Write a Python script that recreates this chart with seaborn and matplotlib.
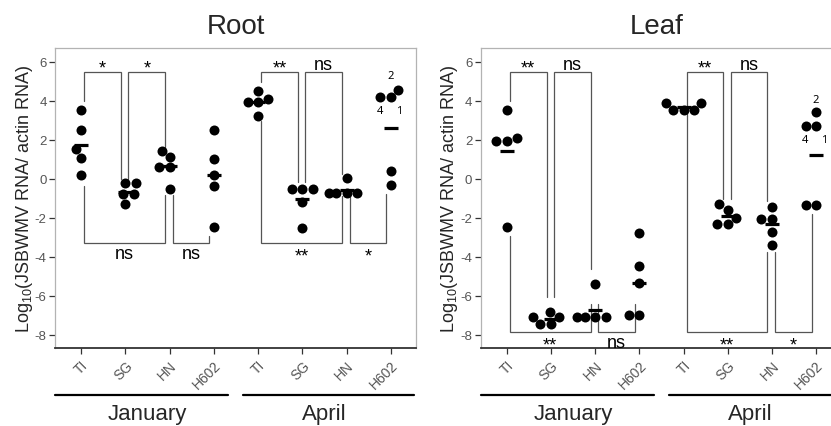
import numpy as np
import pandas as pd
import matplotlib
matplotlib.use("Agg")
import matplotlib.pyplot as plt
import seaborn as sns

# categories
months = ["January", "April"]
strains = ["TI", "SG", "HN", "H602"]
groups = [f"{m} {s}" for m in months for s in strains]

# log10 values, one list per group (Jan TI..H602, Apr TI..H602)
root_values = [
    [3.5, 2.5, 1.5, 1.05, 0.2],
    [-0.22, -0.22, -0.78, -0.8, -1.3],
    [1.44, 1.1, 0.58, 0.58, -0.53],
    [2.5, 1.0, 0.2, -0.35, -2.5],
    [4.5, 4.1, 3.92, 3.92, 3.2],
    [-0.53, -0.53, -0.53, -1.21, -2.53],
    [0.02, -0.72, -0.72, -0.72, -0.72],
    [4.55, 4.2, 4.2, 0.4, -0.3],
]
leaf_values = [
    [3.5, 2.1, 1.95, 1.95, -2.5],
    [-6.85, -7.11, -7.11, -7.45, -7.45],
    [-5.4, -7.08, -7.08, -7.08, -7.08],
    [-2.8, -4.5, -5.35, -7.0, -7.0],
    [3.9, 3.9, 3.5, 3.5, 3.5],
    [-1.3, -1.6, -2.0, -2.3, -2.3],
    [-1.47, -2.07, -2.07, -2.72, -3.4],
    [3.4, 2.68, 2.68, -1.35, -1.35],
]

# significance brackets: (group i, group j, leg end i, leg end j, bar level, label)
root_brackets = [
    (0, 1, 4.0, 0.0, 5.45, "*"),
    (1, 2, 0.0, 1.6, 5.45, "*"),
    (0, 2, -0.36, -0.82, -3.32, "ns"),
    (2, 3, -0.82, -2.92, -3.32, "ns"),
    (4, 5, 4.94, -0.15, 5.45, "**"),
    (5, 6, -0.19, 0.24, 5.45, "ns"),
    (4, 6, 2.97, -0.87, -3.32, "**"),
    (6, 7, -0.87, -0.79, -3.32, "*"),
]
leaf_brackets = [
    (0, 1, 4.0, -6.09, 5.45, "**"),
    (1, 2, -6.09, -4.63, 5.45, "ns"),
    (0, 2, -2.92, -6.43, -7.88, "**"),
    (2, 3, -6.43, -6.43, -7.88, "ns"),
    (4, 5, 3.23, -1.04, 5.45, "**"),
    (5, 6, -1.04, -1.13, 5.45, "ns"),
    (4, 6, 3.23, -3.78, -7.88, "**"),
    (6, 7, -3.78, -1.81, -7.88, "*"),
]

# sample id labels next to H602 April points: (group, x shift, y, text)
root_ids = [(7, 0.0, 5.28, "2"), (7, -0.24, 3.49, "4"), (7, 0.19, 3.49, "1")]
leaf_ids = [(7, 0.0, 4.08, "2"), (7, -0.25, 2.03, "4"), (7, 0.18, 2.03, "1")]

sns.set_style("white")
plt.rcParams["font.family"] = ["Liberation Sans", "DejaVu Sans"]
plt.rcParams["mathtext.default"] = "regular"
plt.rcParams["axes.unicode_minus"] = False


def make_df(values):
    rows = []
    for g, vals in zip(groups, values):
        for v in vals:
            rows.append({"group": g, "value": v})
    return pd.DataFrame(rows)


def bracket(ax, i, j, yi, yj, ybar, label):
    xl, xr = i + 0.07, j - 0.1
    ax.plot([xl, xl, xr, xr], [yi, ybar, ybar, yj], color="#555555", lw=0.9,
            solid_joinstyle="miter", zorder=0.5)
    xc = (xl + xr) / 2
    star = label != "ns"
    fs = 13
    above = ybar > max(yi, yj)
    center = ybar + 0.4 if above else ybar - 0.5
    # shift from ink center down to baseline
    em = fs * 100 / 72 / 19.5
    base = center - (0.42 if star else 0.265) * em
    ax.text(xc, base, label, ha="center", va="baseline", fontsize=fs, color="black")


def panel(ax, values, brackets, ids, title, xmax):
    df = make_df(values)
    sns.swarmplot(data=df, x="group", y="value", order=groups, color="black",
                  size=7.2, ax=ax, zorder=2)
    sns.pointplot(data=df, x="group", y="value", order=groups, estimator="mean",
                  errorbar=None, color="black", marker="_", markersize=10,
                  markeredgewidth=2.3, linestyle="none", ax=ax, zorder=3)
    for b in brackets:
        bracket(ax, *b)
    for g, dx, y, t in ids:
        ax.text(g + dx, y, t, ha="center", va="center", fontsize=8,
                family=["Noto Sans", "DejaVu Sans"], color="black")

    ax.set_xlim(-0.59, xmax)
    ax.set_ylim(-8.68, 6.70)
    ax.set_yticks(np.arange(-8, 7, 2))
    ax.set_xticks(range(len(groups)))
    ax.set_xticklabels(strains * 2, rotation=45, ha="right", va="top",
                       rotation_mode="anchor", fontsize=10, color="#555555")
    ax.tick_params(axis="y", labelsize=9.5, labelcolor="#555555", length=4,
                   width=0.9, color="#333333", pad=2, left=True)
    ax.tick_params(axis="x", length=4, width=0.9, color="#333333", pad=3, bottom=True)
    ax.set_xlabel("")
    ax.set_ylabel(r"Log$_{10}$(JSBWMV RNA/ actin RNA)", fontsize=13, labelpad=0)
    ax.set_title(title, fontsize=20, pad=11)
    for s in ["top", "right", "left"]:
        ax.spines[s].set_color("#b3b3b3")
        ax.spines[s].set_linewidth(0.9)
    ax.spines["bottom"].set_color("#333333")
    ax.spines["bottom"].set_linewidth(1.3)

    # month group lines and labels under the tick labels
    tr = ax.get_xaxis_transform()
    spans = [(-0.58, 3.33), (3.67, 7.52)]
    for (a, b), m, c in zip(spans, months, [1.5, 5.5]):
        ax.plot([a, b], [-0.157, -0.157], color="black", lw=1.6, transform=tr,
                clip_on=False)
        ax.text(c, -0.237, m, ha="center", va="baseline", fontsize=16,
                transform=tr)


fig = plt.figure(figsize=(8.31, 4.27), dpi=100)
W, H = 831, 427
ax1 = fig.add_axes([55 / W, 1 - 349 / H, 361 / W, 300 / H])
ax2 = fig.add_axes([480.7 / W, 1 - 349 / H, 351.3 / W, 300 / H])

panel(ax1, root_values, root_brackets, root_ids, "Root", 7.57)
panel(ax2, leaf_values, leaf_brackets, leaf_ids, "Leaf", 7.36)

fig.savefig("out.png", dpi=100)
